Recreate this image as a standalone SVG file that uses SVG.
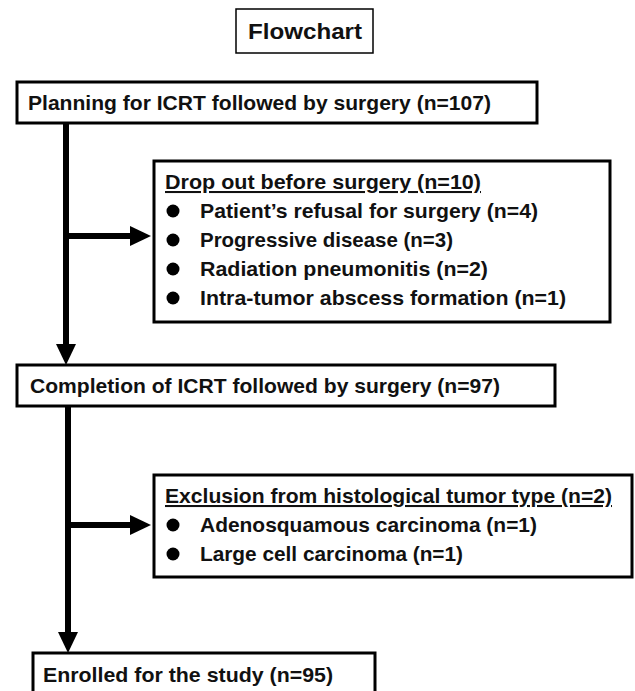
<svg xmlns="http://www.w3.org/2000/svg" width="635" height="691" viewBox="0 0 635 691">
<defs>
<style>
.box{fill:#fff;stroke:#000;stroke-width:3}
.tbox{fill:#fff;stroke:#000;stroke-width:1.5}
.t{font-family:"Liberation Sans",Arial,sans-serif;font-weight:bold;font-size:20.5px;fill:#111}
.title{font-family:"Liberation Sans",Arial,sans-serif;font-weight:bold;font-size:22px;fill:#111}
.u{text-decoration:underline}
.bul{fill:#000}
.conn{stroke:#000;stroke-width:6;fill:none}
</style>
<marker id="ah" markerUnits="userSpaceOnUse" markerWidth="21" markerHeight="20" refX="0" refY="10" orient="auto" viewBox="0 0 21 20">
<path d="M0,0 L21,10 L0,20 z" fill="#000"/>
</marker>
</defs>
<rect width="635" height="691" fill="#fff"/>
<g id="connectors">
<path class="conn" d="M66,123 V344" marker-end="url(#ah)"/>
<path class="conn" d="M66,236 H130" marker-end="url(#ah)"/>
<path class="conn" d="M68,406 V632" marker-end="url(#ah)"/>
<path class="conn" d="M68,525 H130" marker-end="url(#ah)"/>
</g>
<g id="title">
<rect class="tbox" x="236" y="9" width="137" height="44"/>
<text class="title" x="248" y="39" textLength="114" lengthAdjust="spacingAndGlyphs">Flowchart</text>
</g>
<g id="planning">
<rect class="box" x="17" y="82" width="520" height="41"/>
<text class="t" x="28" y="110" textLength="463" lengthAdjust="spacingAndGlyphs">Planning for ICRT followed by surgery (n=107)</text>
</g>
<g id="dropout">
<rect class="box" x="154" y="161" width="456" height="161"/>
<text class="t u" x="165" y="189" textLength="316" lengthAdjust="spacingAndGlyphs">Drop out before surgery (n=10)</text>
<circle class="bul" cx="173" cy="211" r="6.5"/>
<text class="t" x="200" y="218" textLength="338" lengthAdjust="spacingAndGlyphs">Patient’s refusal for surgery (n=4)</text>
<circle class="bul" cx="173" cy="240" r="6.5"/>
<text class="t" x="200" y="247" textLength="253" lengthAdjust="spacingAndGlyphs">Progressive disease (n=3)</text>
<circle class="bul" cx="173" cy="269" r="6.5"/>
<text class="t" x="200" y="276" textLength="288" lengthAdjust="spacingAndGlyphs">Radiation pneumonitis (n=2)</text>
<circle class="bul" cx="173" cy="298" r="6.5"/>
<text class="t" x="200" y="305" textLength="366" lengthAdjust="spacingAndGlyphs">Intra-tumor abscess formation (n=1)</text>
</g>
<g id="completion">
<rect class="box" x="17" y="365" width="538" height="41"/>
<text class="t" x="30" y="393" textLength="470" lengthAdjust="spacingAndGlyphs">Completion of ICRT followed by surgery (n=97)</text>
</g>
<g id="exclusion">
<rect class="box" x="154" y="475" width="478" height="102"/>
<text class="t u" x="165" y="503" textLength="447" lengthAdjust="spacingAndGlyphs">Exclusion from histological tumor type (n=2)</text>
<circle class="bul" cx="173" cy="525" r="6.5"/>
<text class="t" x="200" y="532" textLength="337" lengthAdjust="spacingAndGlyphs">Adenosquamous carcinoma (n=1)</text>
<circle class="bul" cx="173" cy="554" r="6.5"/>
<text class="t" x="200" y="561" textLength="263" lengthAdjust="spacingAndGlyphs">Large cell carcinoma (n=1)</text>
</g>
<g id="enrolled">
<rect class="box" x="33" y="653" width="342" height="50"/>
<text class="t" x="43" y="682" textLength="290" lengthAdjust="spacingAndGlyphs">Enrolled for the study (n=95)</text>
</g>
</svg>
